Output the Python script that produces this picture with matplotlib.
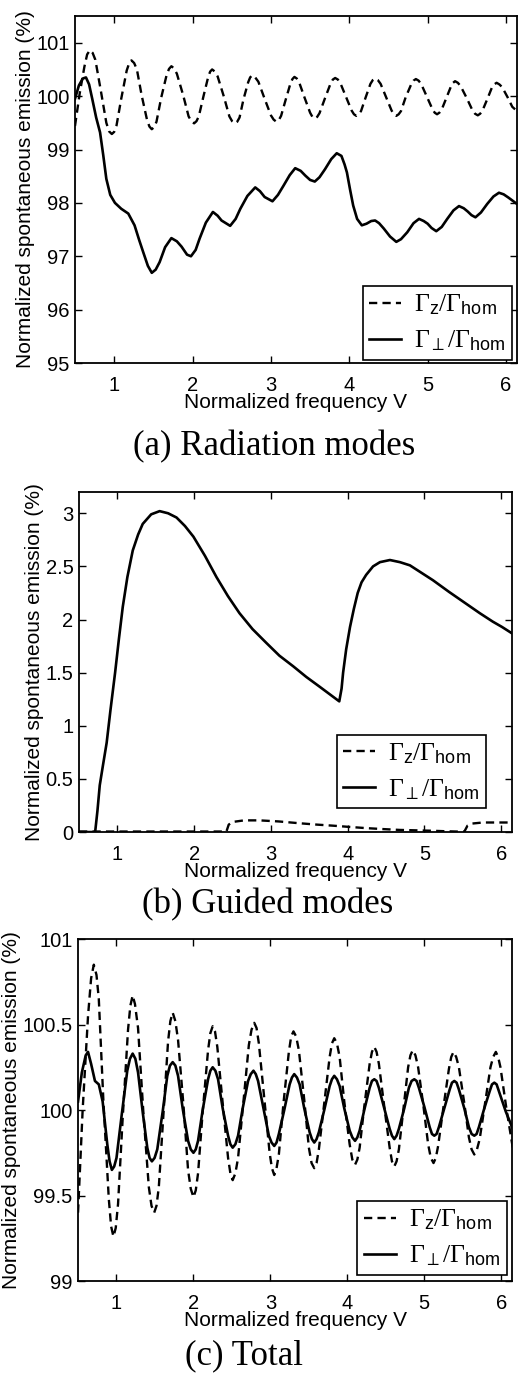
import matplotlib
matplotlib.use("Agg")
import matplotlib.pyplot as plt

plt.rcParams["font.family"] = ["Liberation Sans", "DejaVu Sans"]
plt.rcParams["mathtext.fontset"] = "custom"
plt.rcParams["mathtext.rm"] = "Liberation Serif"
plt.rcParams["mathtext.sf"] = "Liberation Sans"
plt.rcParams["mathtext.it"] = "Liberation Serif:italic"

# (a) Radiation modes
rad_z_V = [0.50, 0.56, 0.62, 0.655, 0.69, 0.725, 0.76, 0.83, 0.90, 0.935, 0.97, 1.00, 1.03, 1.09,
           1.16, 1.19, 1.22, 1.255, 1.29, 1.35, 1.42, 1.45, 1.48, 1.51, 1.54, 1.60, 1.67, 1.70,
           1.73, 1.765, 1.80, 1.88, 1.95, 1.985, 2.02, 2.05, 2.08, 2.14, 2.20, 2.225, 2.25, 2.285,
           2.32, 2.40, 2.47, 2.505, 2.54, 2.57, 2.60, 2.65, 2.71, 2.735, 2.76, 2.80, 2.84, 2.92,
           3.00, 3.035, 3.07, 3.10, 3.13, 3.19, 3.25, 3.275, 3.30, 3.33, 3.36, 3.43, 3.50, 3.53,
           3.56, 3.59, 3.62, 3.69, 3.76, 3.79, 3.82, 3.855, 3.89, 3.96, 4.03, 4.06, 4.09, 4.12,
           4.15, 4.21, 4.27, 4.30, 4.33, 4.365, 4.40, 4.47, 4.54, 4.57, 4.60, 4.63, 4.66, 4.72,
           4.79, 4.82, 4.85, 4.885, 4.92, 4.99, 5.06, 5.09, 5.12, 5.15, 5.18, 5.24, 5.30, 5.325,
           5.35, 5.385, 5.42, 5.50, 5.57, 5.605, 5.64, 5.67, 5.70, 5.76, 5.82, 5.85, 5.88, 5.915,
           5.95, 6.02, 6.08, 6.14]
rad_z = [99.44, 100.05, 100.55, 100.78, 100.86, 100.81, 100.68, 100.10, 99.50, 99.34, 99.29, 99.33,
         99.45, 99.95, 100.48, 100.61, 100.67, 100.62, 100.50, 100.02, 99.55, 99.43, 99.38, 99.42,
         99.52, 99.97, 100.40, 100.51, 100.56, 100.52, 100.42, 100.02, 99.62, 99.53, 99.49, 99.53,
         99.62, 100.00, 100.36, 100.46, 100.50, 100.46, 100.37, 99.99, 99.62, 99.53, 99.49, 99.52,
         99.60, 99.94, 100.26, 100.35, 100.39, 100.35, 100.27, 99.95, 99.64, 99.56, 99.52, 99.55,
         99.63, 99.94, 100.24, 100.32, 100.36, 100.33, 100.26, 99.97, 99.69, 99.61, 99.58, 99.61,
         99.68, 99.96, 100.23, 100.31, 100.34, 100.31, 100.23, 99.98, 99.73, 99.66, 99.63, 99.66,
         99.72, 99.98, 100.23, 100.30, 100.33, 100.30, 100.23, 99.98, 99.73, 99.66, 99.63, 99.66,
         99.72, 99.98, 100.22, 100.29, 100.32, 100.29, 100.22, 99.99, 99.76, 99.69, 99.66, 99.69,
         99.75, 99.97, 100.19, 100.25, 100.28, 100.25, 100.19, 99.96, 99.74, 99.67, 99.64, 99.67,
         99.73, 99.94, 100.16, 100.22, 100.25, 100.22, 100.17, 99.98, 99.80, 99.72]

rad_p_V = [0.50, 0.55, 0.60, 0.64, 0.68, 0.72, 0.77, 0.82, 0.86, 0.90, 0.95, 1.01, 1.09, 1.18,
           1.26, 1.32, 1.37, 1.43, 1.48, 1.53, 1.58, 1.65, 1.73, 1.80, 1.86, 1.93, 1.98, 2.04,
           2.09, 2.17, 2.26, 2.32, 2.37, 2.48, 2.55, 2.61, 2.70, 2.80, 2.86, 2.92, 3.02, 3.09,
           3.16, 3.24, 3.31, 3.38, 3.44, 3.50, 3.56, 3.62, 3.69, 3.77, 3.84, 3.90, 3.94, 3.97,
           4.01, 4.05, 4.10, 4.16, 4.22, 4.28, 4.33, 4.38, 4.44, 4.52, 4.60, 4.66, 4.74, 4.82,
           4.89, 4.95, 5.00, 5.05, 5.11, 5.18, 5.25, 5.33, 5.40, 5.46, 5.51, 5.56, 5.61, 5.68,
           5.76, 5.84, 5.91, 5.97, 6.03, 6.14]
rad_p = [99.95, 100.20, 100.33, 100.35, 100.22, 99.95, 99.60, 99.32, 98.90, 98.45, 98.15, 98.00,
         97.89, 97.80, 97.58, 97.30, 97.08, 96.82, 96.69, 96.75, 96.89, 97.17, 97.34, 97.28, 97.18,
         97.03, 97.00, 97.12, 97.33, 97.63, 97.83, 97.76, 97.67, 97.57, 97.70, 97.89, 98.13, 98.29,
         98.22, 98.11, 98.03, 98.15, 98.32, 98.52, 98.65, 98.60, 98.51, 98.43, 98.40, 98.48, 98.63,
         98.82, 98.93, 98.88, 98.72, 98.57, 98.25, 97.95, 97.70, 97.58, 97.61, 97.66, 97.67, 97.62,
         97.52, 97.37, 97.27, 97.32, 97.45, 97.62, 97.70, 97.66, 97.61, 97.53, 97.47, 97.55, 97.70,
         97.86, 97.94, 97.90, 97.84, 97.77, 97.73, 97.82, 97.98, 98.12, 98.19, 98.16, 98.10, 97.98]

# (b) Guided modes
gui_z_V = [0.50, 2.42, 2.45, 2.50, 2.65, 2.85, 3.10, 3.37, 3.60, 3.81, 4.03, 4.24, 4.46, 4.68,
           4.90, 5.11, 5.30, 5.46, 5.52, 5.56, 5.62, 5.76, 5.95, 6.14]
gui_z = [0.005, 0.005, 0.07, 0.095, 0.11, 0.11, 0.10, 0.083, 0.07, 0.06, 0.048, 0.037, 0.028,
         0.02, 0.016, 0.012, 0.007, 0.004, 0.005, 0.06, 0.08, 0.09, 0.09, 0.09]

gui_p_V = [0.50, 0.71, 0.74, 0.77, 0.81, 0.86, 0.91, 0.97, 1.02, 1.07, 1.13, 1.20, 1.27, 1.33,
           1.44, 1.55, 1.66, 1.77, 1.88, 1.99, 2.14, 2.29, 2.44, 2.59, 2.76, 2.94, 3.11, 3.29,
           3.46, 3.63, 3.76, 3.89, 3.92, 3.94, 3.98, 4.03, 4.08, 4.13, 4.18, 4.24, 4.33, 4.42,
           4.55, 4.68, 4.81, 4.96, 5.11, 5.32, 5.54, 5.72, 5.89, 6.01, 6.14]
gui_p = [0.0, 0.0, 0.20, 0.44, 0.62, 0.84, 1.15, 1.50, 1.82, 2.12, 2.40, 2.65, 2.80, 2.90, 2.99,
         3.02, 3.00, 2.96, 2.88, 2.78, 2.60, 2.40, 2.22, 2.06, 1.91, 1.78, 1.66, 1.56, 1.46, 1.37,
         1.30, 1.23, 1.35, 1.50, 1.72, 1.93, 2.10, 2.25, 2.35, 2.42, 2.50, 2.54, 2.56, 2.54, 2.51,
         2.44, 2.37, 2.26, 2.15, 2.06, 1.98, 1.93, 1.87]

# (c) Total
tot_z_V = [0.50, 0.56, 0.63, 0.67, 0.705, 0.74, 0.77, 0.83, 0.90, 0.93, 0.96, 0.99, 1.02, 1.08,
           1.15, 1.18, 1.21, 1.24, 1.28, 1.35, 1.42, 1.455, 1.49, 1.52, 1.55, 1.61, 1.67, 1.70,
           1.73, 1.765, 1.80, 1.87, 1.93, 1.965, 2.00, 2.03, 2.06, 2.12, 2.19, 2.22, 2.25, 2.28,
           2.31, 2.38, 2.45, 2.48, 2.51, 2.545, 2.58, 2.65, 2.72, 2.755, 2.79, 2.82, 2.85, 2.92,
           2.99, 3.02, 3.05, 3.08, 3.11, 3.17, 3.24, 3.27, 3.30, 3.335, 3.37, 3.44, 3.50, 3.535,
           3.57, 3.60, 3.63, 3.70, 3.77, 3.80, 3.83, 3.865, 3.90, 3.96, 4.03, 4.065, 4.10, 4.13,
           4.16, 4.22, 4.29, 4.32, 4.35, 4.38, 4.41, 4.48, 4.55, 4.58, 4.61, 4.64, 4.67, 4.73,
           4.79, 4.82, 4.85, 4.885, 4.92, 4.99, 5.05, 5.085, 5.12, 5.15, 5.18, 5.25, 5.32, 5.35,
           5.38, 5.415, 5.45, 5.52, 5.58, 5.615, 5.65, 5.685, 5.72, 5.79, 5.86, 5.895, 5.93, 5.96,
           5.99, 6.07, 6.15]
tot_z = [99.40, 100.00, 100.55, 100.77, 100.85, 100.79, 100.65, 100.05, 99.48, 99.32, 99.26, 99.31,
         99.45, 99.95, 100.47, 100.61, 100.67, 100.62, 100.48, 99.98, 99.55, 99.44, 99.40, 99.44,
         99.55, 99.98, 100.40, 100.52, 100.57, 100.52, 100.41, 100.03, 99.65, 99.54, 99.49, 99.53,
         99.63, 99.99, 100.35, 100.45, 100.49, 100.46, 100.37, 100.04, 99.72, 99.63, 99.59, 99.63,
         99.72, 100.05, 100.38, 100.47, 100.51, 100.48, 100.39, 100.07, 99.75, 99.66, 99.62, 99.66,
         99.74, 100.04, 100.34, 100.43, 100.46, 100.43, 100.35, 100.06, 99.78, 99.69, 99.66, 99.69,
         99.77, 100.04, 100.31, 100.39, 100.42, 100.39, 100.31, 100.05, 99.80, 99.71, 99.68, 99.71,
         99.78, 100.02, 100.27, 100.34, 100.37, 100.34, 100.27, 100.02, 99.78, 99.70, 99.67, 99.70,
         99.77, 100.01, 100.25, 100.32, 100.35, 100.32, 100.25, 100.02, 99.80, 99.72, 99.69, 99.72,
         99.79, 100.02, 100.24, 100.31, 100.34, 100.31, 100.25, 100.04, 99.84, 99.77, 99.74, 99.77,
         99.83, 100.04, 100.25, 100.31, 100.34, 100.31, 100.25, 100.00, 99.78]

tot_p_V = [0.50, 0.55, 0.60, 0.63, 0.67, 0.72, 0.77, 0.82, 0.88, 0.91, 0.94, 0.97, 1.00, 1.07,
           1.14, 1.175, 1.21, 1.245, 1.28, 1.34, 1.40, 1.43, 1.46, 1.495, 1.53, 1.60, 1.66, 1.695,
           1.73, 1.765, 1.80, 1.86, 1.93, 1.965, 2.00, 2.03, 2.06, 2.12, 2.19, 2.22, 2.25, 2.285,
           2.32, 2.38, 2.45, 2.48, 2.51, 2.545, 2.58, 2.64, 2.71, 2.745, 2.78, 2.81, 2.84, 2.91,
           2.98, 3.015, 3.05, 3.08, 3.11, 3.18, 3.25, 3.28, 3.31, 3.345, 3.38, 3.44, 3.51, 3.54,
           3.57, 3.60, 3.63, 3.70, 3.77, 3.80, 3.83, 3.865, 3.90, 3.96, 4.03, 4.065, 4.10, 4.13,
           4.16, 4.22, 4.29, 4.32, 4.35, 4.38, 4.41, 4.48, 4.55, 4.58, 4.61, 4.64, 4.67, 4.74,
           4.80, 4.835, 4.87, 4.90, 4.93, 5.00, 5.07, 5.10, 5.13, 5.16, 5.19, 5.26, 5.33, 5.36,
           5.39, 5.42, 5.45, 5.52, 5.58, 5.615, 5.65, 5.68, 5.71, 5.78, 5.85, 5.88, 5.91, 5.94,
           5.97, 6.06, 6.15]
tot_p = [100.05, 100.22, 100.32, 100.34, 100.27, 100.17, 100.15, 100.05, 99.80, 99.70, 99.65, 99.67,
         99.72, 99.98, 100.23, 100.30, 100.33, 100.30, 100.22, 99.99, 99.78, 99.72, 99.70, 99.72,
         99.77, 99.99, 100.20, 100.26, 100.28, 100.26, 100.20, 100.01, 99.82, 99.77, 99.75, 99.77,
         99.82, 100.00, 100.18, 100.23, 100.25, 100.23, 100.18, 100.01, 99.85, 99.80, 99.78, 99.80,
         99.85, 100.01, 100.17, 100.21, 100.23, 100.21, 100.17, 100.01, 99.85, 99.81, 99.79, 99.81,
         99.86, 100.00, 100.15, 100.19, 100.21, 100.19, 100.15, 100.01, 99.87, 99.83, 99.81, 99.83,
         99.87, 100.00, 100.14, 100.18, 100.20, 100.18, 100.14, 100.01, 99.88, 99.84, 99.82, 99.84,
         99.88, 100.00, 100.13, 100.17, 100.18, 100.17, 100.13, 100.01, 99.89, 99.85, 99.83, 99.85,
         99.89, 100.01, 100.13, 100.17, 100.18, 100.17, 100.13, 100.02, 99.90, 99.86, 99.85, 99.86,
         99.90, 100.01, 100.12, 100.16, 100.17, 100.16, 100.12, 100.01, 99.90, 99.86, 99.85, 99.86,
         99.90, 100.01, 100.11, 100.15, 100.16, 100.15, 100.11, 99.99, 99.89]

xticks = [1, 2, 3, 4, 5, 6]
yticks_a = [95, 96, 97, 98, 99, 100, 101]
yticks_b = [0, 0.5, 1, 1.5, 2, 2.5, 3]
yticks_c = [99, 99.5, 100, 100.5, 101]
ytick_labels_b = ["0", "0.5", "1", "1.5", "2", "2.5", "3"]
ytick_labels_c = ["99", "99.5", "100", "100.5", "101"]

label_z = r"$\Gamma_{\mathsf{z}}/\Gamma_{\mathsf{hom}}$"
label_p = r"$\Gamma_{\perp}/\Gamma_{\mathsf{hom}}$"


def panel(fig, rect, zV, z, pV, p, ylim, yticks, ylabels, legend_anchor):
    ax = fig.add_axes(rect)
    ax.plot(zV, z, color="black", lw=1.7, linestyle=(0, (3.5, 2.2)), label=label_z,
            solid_joinstyle="round", dash_joinstyle="round")
    ax.plot(pV, p, color="black", lw=1.9, label=label_p, solid_joinstyle="round")
    ax.set_xlim(0.5, 6.14)
    ax.set_ylim(*ylim)
    ax.set_xticks(xticks)
    ax.set_yticks(yticks)
    if ylabels is not None:
        ax.set_yticklabels(ylabels)
    ax.tick_params(direction="in", top=True, right=True, length=5, width=1,
                   labelsize=14.5)
    ax.tick_params(axis="x", pad=9)
    ax.tick_params(axis="y", pad=4)
    for s in ax.spines.values():
        s.set_linewidth(1.3)
    ax.set_xlabel("Normalized frequency V", fontsize=15, labelpad=-1)
    ax.set_ylabel("Normalized spontaneous emission (%)", fontsize=15, labelpad=1)
    leg = ax.legend(loc="lower right", bbox_to_anchor=legend_anchor, fontsize=18.5,
                    fancybox=False, framealpha=1, edgecolor="black",
                    handlelength=1.25, borderpad=0.25, labelspacing=0.45,
                    handletextpad=0.5, borderaxespad=0)
    leg.get_frame().set_linewidth(1.2)
    return ax


fig = plt.figure(figsize=(5.24, 13.84), dpi=100)

panel(fig, [0.1431, 0.7377, 0.8435, 0.2507], rad_z_V, rad_z, rad_p_V, rad_p,
      (95, 101.5), yticks_a, None, (0.989, 0.009))
panel(fig, [0.1508, 0.3988, 0.8263, 0.2457], gui_z_V, gui_z, gui_p_V, gui_p,
      (0, 3.2), yticks_b, ytick_labels_b, (0.94, 0.07))
panel(fig, [0.1489, 0.0744, 0.8282, 0.2471], tot_z_V, tot_z, tot_p_V, tot_p,
      (99, 101), yticks_c, ytick_labels_c, (0.988, 0.018))

fig.text(0.524, 0.6770, "(a) Radiation modes", family="Liberation Serif",
         fontsize=25, ha="center", va="center")
fig.text(0.5105, 0.3460, "(b) Guided modes", family="Liberation Serif",
         fontsize=25, ha="center", va="center")
fig.text(0.4647, 0.0202, "(c) Total", family="Liberation Serif",
         fontsize=25, ha="center", va="center")

fig.savefig("out.png", dpi=100)
